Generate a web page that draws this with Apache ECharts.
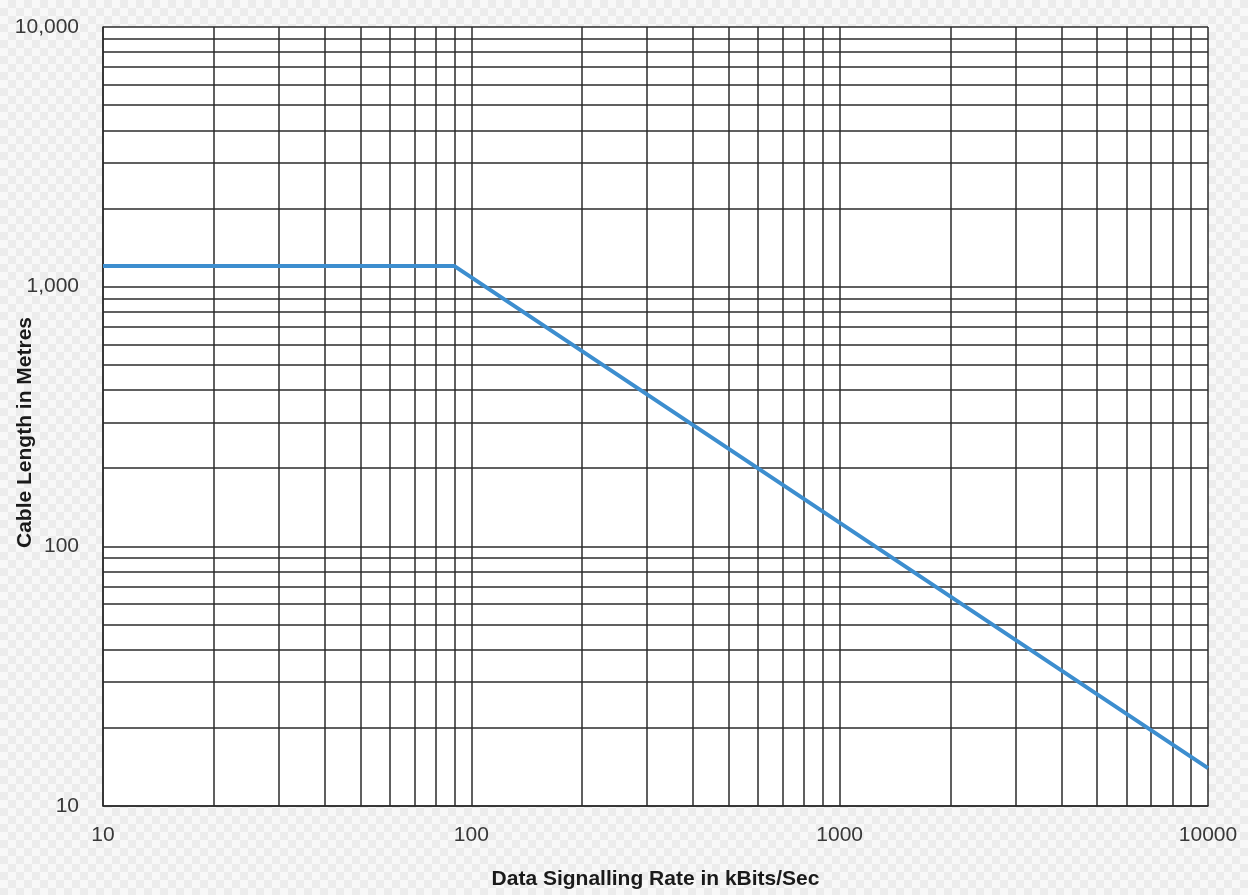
<!DOCTYPE html>
<html>
<head>
<meta charset="utf-8">
<script src="https://cdn.jsdelivr.net/npm/echarts@6/dist/echarts.min.js"></script>
<style>
  html, body { margin: 0; padding: 0; width: 1248px; height: 895px; overflow: hidden;
    background-color: #f8f8f8;
    background-image: repeating-conic-gradient(#ececec 0% 25%, #f8f8f8 0% 50%);
    background-size: 16px 16px; }
  #main { width: 1248px; height: 895px; }
</style>
</head>
<body>
<div id="main"></div>
<script>
// Data signalling rate (kBits/s) vs cable length (m)
const rates = [10, 90, 10000];
const lengths = [1200, 1200, 14];

// gridline positions (log-log graph paper)
const xMinorGrid = [20, 30, 40, 50, 60, 70, 80, 90, 200, 300, 400, 500, 600, 700, 800, 900, 2000, 3000, 4000, 5000, 6000, 7000, 8000, 9000];
const yMinorGrid = [20, 30, 40, 50, 60, 70, 80, 90, 200, 300, 400, 500, 600, 700, 800, 900, 2000, 3000, 4000, 5000, 6000, 7000, 8000, 9000];

const gridColor = '#2b2b2b';
const gridWidth = 1.5;
const fontFam = 'Liberation Sans, Arial, sans-serif';

const chart = echarts.init(document.getElementById('main'), null, { renderer: 'canvas' });

const markData = xMinorGrid.map(v => ({ xAxis: v })).concat(yMinorGrid.map(v => ({ yAxis: v })));

chart.setOption({
  animation: false,
  backgroundColor: 'transparent',
  grid: { left: 103, top: 27, right: 40, bottom: 89, outerBoundsMode: 'none', containLabel: false,
    show: true, backgroundColor: '#ffffff', borderWidth: 0 },
  xAxis: {
    type: 'log', logBase: 10, min: 10, max: 10000,
    name: 'Data Signalling Rate in kBits/Sec', nameLocation: 'middle', nameGap: 63, nameMoveOverlap: false,
    nameTextStyle: { fontFamily: fontFam, fontWeight: 'bold', fontSize: 21, color: '#1a1a1a' },
    axisLine: { show: true, lineStyle: { color: gridColor, width: gridWidth } },
    axisTick: { show: false },
    axisLabel: { fontFamily: fontFam, fontSize: 21, color: '#383838', margin: 19, formatter: v => String(v) },
    splitLine: { show: true, lineStyle: { color: gridColor, width: gridWidth } }
  },
  yAxis: {
    type: 'log', logBase: 10, min: 10, max: 10000,
    name: 'Cable Length in Metres', nameLocation: 'middle', nameGap: 67, nameMoveOverlap: false,
    nameTextStyle: { fontFamily: fontFam, fontWeight: 'bold', fontSize: 21, color: '#1a1a1a', padding: [0, 32, 0, 0] },
    axisLine: { show: true, lineStyle: { color: gridColor, width: gridWidth } },
    axisTick: { show: false },
    axisLabel: { fontFamily: fontFam, fontSize: 21, color: '#383838', margin: 24,
      formatter: v => Number(v).toLocaleString('en-US') },
    splitLine: { show: true, lineStyle: { color: gridColor, width: gridWidth } }
  },
  series: [{
    type: 'line',
    data: rates.map((r, i) => [r, lengths[i]]),
    showSymbol: false,
    symbol: 'none',
    lineStyle: { color: '#3d8ecf', width: 4 },
    z: 5,
    markLine: {
      silent: true,
      symbol: ['none', 'none'],
      label: { show: false },
      lineStyle: { color: gridColor, width: gridWidth, type: 'solid' },
      emphasis: { disabled: true },
      animation: false,
      data: markData,
      z: 1
    }
  }]
});
</script>
</body>
</html>
